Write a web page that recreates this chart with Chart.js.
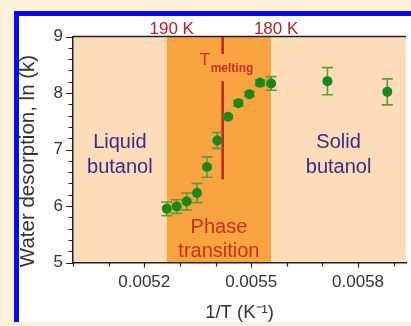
<!DOCTYPE html>
<html><head><meta charset="utf-8">
<script src="https://cdn.jsdelivr.net/npm/chart.js@4/dist/chart.umd.min.js"></script>
<style>
html,body{margin:0;padding:0;background:#FCF2D9;width:411px;height:326px;overflow:hidden;}
#frame{position:absolute;left:14px;top:11px;width:397px;height:311px;box-sizing:border-box;border-left:5px solid #0A0AF0;border-top:5px solid #0A0AF0;background:#fff;}
#wrap{position:absolute;left:19px;top:16px;width:392px;height:306px;}
</style></head><body>
<div id="frame"></div>
<div id="wrap"><canvas id="c" width="392" height="306"></canvas></div>
<script>
// ---- data ----
const invT   = [0.005263, 0.005291, 0.005319, 0.005348, 0.005376, 0.005405, 0.005435, 0.005464, 0.005495, 0.005525, 0.005556, 0.005714, 0.005882];
const lnK    = [5.95, 5.99, 6.08, 6.23, 6.69, 7.16, 7.58, 7.82, 7.98, 8.18, 8.17, 8.21, 8.02];
const lnKErr = [0.12, 0.12, 0.15, 0.17, 0.18, 0.14, 0.03, 0.05, 0.04, 0.05, 0.12, 0.24, 0.23];
const xTickLabels = ['0.0052', '0.0055', '0.0058'];
const yTickLabels = ['5', '6', '7', '8', '9'];
const phaseBounds = [0.005263, 0.005556];   // 190 K and 180 K
const phaseBoundLabels = ['190 K', '180 K'];
const meltingX = 0.005420;
const regionNames = [['Liquid', 'butanol'], ['Phase', 'transition'], ['Solid', 'butanol']];
const yTitle = 'Water desorption, ln (k)';

const FONT = "'Liberation Sans', Arial, sans-serif";
const C_PEACH = '#FDDCB9', C_ORANGE = '#F9A43E', C_RED = '#BE1E24';
const C_POINT = '#168A18', C_ERR = '#5C9B36';

const overlay = {
  id: 'overlay',
  beforeDraw(chart) {
    const {ctx, chartArea: a, scales: {x}} = chart;
    const b0 = x.getPixelForValue(phaseBounds[0]), b1 = x.getPixelForValue(phaseBounds[1]);
    ctx.save();
    ctx.fillStyle = C_PEACH; ctx.fillRect(a.left, a.top, b0 - a.left, a.bottom - a.top);
    ctx.fillStyle = C_ORANGE; ctx.fillRect(b0, a.top, b1 - b0, a.bottom - a.top);
    ctx.fillStyle = C_PEACH; ctx.fillRect(b1, a.top, a.right - b1, a.bottom - a.top);
    ctx.restore();
  },
  beforeDatasetsDraw(chart) {
    const {ctx, chartArea: a, scales: {x, y}} = chart;
    ctx.save();
    // melting line
    const mx = x.getPixelForValue(meltingX);
    ctx.strokeStyle = '#C0262A'; ctx.lineWidth = 2.6;
    ctx.beginPath();
    ctx.moveTo(mx, a.top); ctx.lineTo(mx, y.getPixelForValue(8.69));
    ctx.moveTo(mx, y.getPixelForValue(8.21)); ctx.lineTo(mx, y.getPixelForValue(6.47));
    ctx.stroke();
    ctx.fillStyle = '#C8321E'; ctx.textBaseline = 'alphabetic';
    ctx.font = '17px ' + FONT; ctx.textAlign = 'center';
    ctx.fillText('T', mx - 18, y.getPixelForValue(8.5));
    ctx.font = 'bold 12px ' + FONT; ctx.textAlign = 'left';
    ctx.fillText('melting', mx - 12, y.getPixelForValue(8.37));
    // region names
    const b0 = x.getPixelForValue(phaseBounds[0]), b1 = x.getPixelForValue(phaseBounds[1]);
    const centers = [(a.left + b0) / 2, (b0 + b1) / 2, (b1 + a.right) / 2];
    const baseY = [[7.03, 6.585], [5.525, 5.105], [7.03, 6.585]];
    const cols = ['#3A2D86', '#C8321E', '#3A2D86'];
    ctx.font = '20px ' + FONT; ctx.textAlign = 'center';
    regionNames.forEach((lines, i) => {
      ctx.fillStyle = cols[i];
      lines.forEach((t, j) => ctx.fillText(t, centers[i], y.getPixelForValue(baseY[i][j])));
    });
    // error bars
    ctx.strokeStyle = C_ERR; ctx.lineWidth = 1.6;
    invT.forEach((v, i) => {
      const px = x.getPixelForValue(v);
      const t = y.getPixelForValue(lnK[i] + lnKErr[i]), bo = y.getPixelForValue(lnK[i] - lnKErr[i]);
      ctx.beginPath();
      ctx.moveTo(px, t); ctx.lineTo(px, bo);
      ctx.moveTo(px - 5.5, t); ctx.lineTo(px + 5.5, t);
      ctx.moveTo(px - 5.5, bo); ctx.lineTo(px + 5.5, bo);
      ctx.stroke();
    });
    ctx.restore();
  },
  afterDraw(chart) {
    const {ctx, chartArea: a, scales: {x, y}} = chart;
    ctx.save();
    ctx.strokeStyle = '#222'; ctx.lineWidth = 1.5;
    ctx.beginPath(); ctx.moveTo(a.left, a.top); ctx.lineTo(a.right, a.top); ctx.stroke();
    ctx.lineWidth = 1.2;
    ctx.beginPath();
    x.ticks.forEach(t => {
      const px = Math.round(x.getPixelForValue(t.value)) + 0.5;
      const major = t.label !== '';
      ctx.moveTo(px, a.bottom); ctx.lineTo(px, a.bottom + (major ? 5 : 4));
    });
    y.ticks.forEach(t => {
      const py = Math.round(y.getPixelForValue(t.value)) + 0.5;
      const major = t.label !== '';
      ctx.moveTo(a.left, py); ctx.lineTo(a.left - (major ? 7 : 4.5), py);
    });
    ctx.stroke();
    ctx.fillStyle = C_RED; ctx.font = '17px ' + FONT; ctx.textAlign = 'center'; ctx.textBaseline = 'alphabetic';
    phaseBounds.forEach((v, i) => {
      ctx.fillText(phaseBoundLabels[i], x.getPixelForValue(v) + 5, a.top - 2.5);
    });
    // y axis title
    ctx.translate(9.5, (a.top + a.bottom) / 2 + 11.5);
    ctx.rotate(-Math.PI / 2);
    ctx.fillStyle = '#333'; ctx.font = '20.5px ' + FONT; ctx.textBaseline = 'middle';
    ctx.fillText(yTitle, 0, 0);
    ctx.restore();
  }
};

new Chart(document.getElementById('c'), {
  type: 'scatter',
  data: {
    datasets: [{
      data: invT.map((v, i) => ({x: v, y: lnK[i]})),
      backgroundColor: C_POINT, borderColor: C_POINT,
      pointRadius: 5, pointHoverRadius: 5, borderWidth: 0
    }]
  },
  options: {
    responsive: false, animation: false, devicePixelRatio: 1,
    layout: {padding: {top: 20.5, left: 0, right: 0, bottom: 0}},
    plugins: {legend: {display: false}, tooltip: {enabled: false}},
    scales: {
      x: {
        type: 'linear', min: 0.0050, max: 0.0059345,
        afterFit: s => { s.height = 59.5; },
        ticks: {
          stepSize: 0.0001, includeBounds: false, autoSkip: false, maxRotation: 0,
          padding: 10, color: '#333', font: {family: FONT, size: 17},
          callback: v => xTickLabels.find(l => Math.abs(parseFloat(l) - v) < 1e-8) || ''
        },
        grid: {drawOnChartArea: false, drawTicks: false},
        border: {display: true, color: '#222', width: 1.5},
        title: {display: true, text: '1/T (K⁻¹)', color: '#333',
                font: {family: FONT, size: 18.5, lineHeight: 1}, padding: {top: 0, bottom: 0}}
      },
      y: {
        min: 5, max: 9,
        afterFit: s => { s.width = 54; },
        ticks: {
          stepSize: 0.2, autoSkip: false, padding: 10, color: '#333',
          font: {family: FONT, size: 17},
          callback: v => yTickLabels.find(l => Math.abs(parseFloat(l) - v) < 1e-6) || ''
        },
        grid: {drawOnChartArea: false, drawTicks: false},
        border: {display: true, color: '#222', width: 1.5},
        title: {display: false}
      }
    }
  },
  plugins: [overlay]
});
</script>
</body></html>
